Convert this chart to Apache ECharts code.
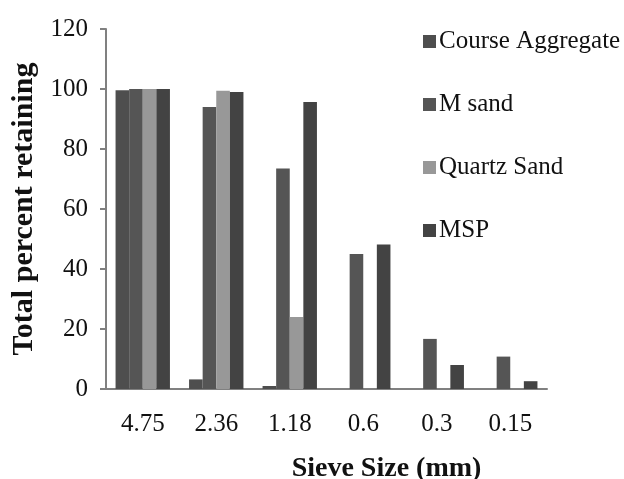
<!DOCTYPE html>
<html>
<head>
<meta charset="utf-8">
<script src="https://cdn.jsdelivr.net/npm/echarts@6/dist/echarts.min.js"></script>
<style>html,body{margin:0;padding:0;background:#fff;}#chart{width:624px;height:479px;}</style>
</head>
<body>
<div id="chart"></div>
<script>
const categories = ['4.75', '2.36', '1.18', '0.6', '0.3', '0.15'];
const seriesNames = ['Course Aggregate', 'M sand', 'Quartz Sand', 'MSP'];
const courseAggregate = [99.6, 3.2, 1.0, 0, 0, 0];
const mSand = [100, 94, 73.5, 45, 16.7, 10.8];
const quartzSand = [100, 99.4, 24, 0, 0, 0];
const msp = [100, 99, 95.7, 48.2, 8, 2.6];
const yTicks = { min: 0, max: 120, interval: 20 };
const colors = ['#4e4e4e', '#555555', '#989898', '#434343'];

const chart = echarts.init(document.getElementById('chart'));
const font = 'Liberation Serif';
const dataSets = [courseAggregate, mSand, quartzSand, msp];
chart.setOption({
  animation: false,
  backgroundColor: '#ffffff',
  color: colors,
  textStyle: { fontFamily: font },
  grid: { left: 106, right: 77, top: 29, bottom: 90, containLabel: false, outerBoundsMode: 'none' },
  legend: {
    orient: 'vertical',
    left: 418,
    top: 24,
    itemWidth: 13,
    itemHeight: 13,
    itemGap: 38,
    icon: 'rect',
    textStyle: { fontFamily: font, fontSize: 25, color: '#111', padding: [0, 0, 0, -2] },
    data: seriesNames
  },
  xAxis: {
    type: 'category',
    data: categories,
    axisLine: { lineStyle: { color: '#808080', width: 2 } },
    axisTick: { show: false },
    axisLabel: { fontFamily: font, fontSize: 25, color: '#111', margin: 23 },
    name: 'Sieve Size (mm)',
    nameLocation: 'middle',
    nameGap: 66,
    nameTextStyle: { fontFamily: font, fontSize: 28, fontWeight: 'bold', color: '#111', padding: [0, 0, 0, 120] }
  },
  yAxis: {
    type: 'value',
    min: yTicks.min, max: yTicks.max, interval: yTicks.interval,
    axisLine: { show: true, lineStyle: { color: '#808080', width: 2 } },
    axisTick: { show: true, inside: false, length: 6, lineStyle: { color: '#808080', width: 2 } },
    splitLine: { show: false },
    axisLabel: { fontFamily: font, fontSize: 25, color: '#111', margin: 18 },
    name: 'Total percent retaining',
    nameLocation: 'middle',
    nameRotate: 90,
    nameGap: 66,
    nameTextStyle: { fontFamily: font, fontSize: 30, fontWeight: 'bold', color: '#111' }
  },
  series: seriesNames.map((n, i) => ({
    name: n,
    type: 'bar',
    data: dataSets[i],
    barGap: '0%',
    barCategoryGap: '26%',
    itemStyle: { color: colors[i] }
  }))
});
</script>
</body>
</html>
